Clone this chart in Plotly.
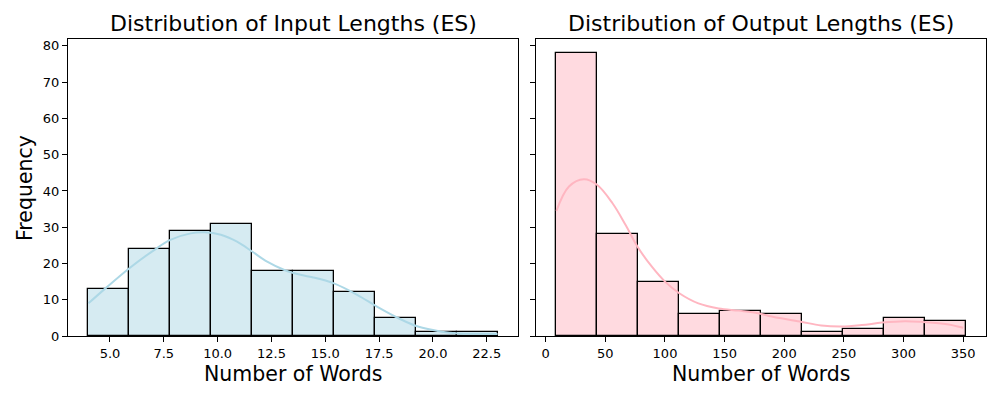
import plotly.graph_objects as go

# ---- data ----
input_bin_edges = [4.0, 5.9, 7.8, 9.7, 11.6, 13.5, 15.4, 17.3, 19.2, 21.1, 23.0]
input_counts = [13, 24, 29, 31, 18, 18, 12, 5, 1, 1]

output_bin_edges = [9.0, 43.3, 77.6, 111.9, 146.2, 180.5, 214.8, 249.1, 283.4, 317.7, 352.0]
output_counts = [78, 28, 15, 6, 7, 6, 1, 2, 5, 4]

input_kde_x = [4.0, 4.8, 5.9, 7.05, 7.8, 8.75, 9.4, 10.15, 10.9, 11.6, 12.3, 13.1,
               13.9, 14.4, 15.4, 16.5, 17.4, 18.4, 19.3, 20.4, 21.2, 22.0, 23.0]
input_kde_y = [9.0, 13.2, 18.7, 23.7, 26.5, 28.3, 28.6, 27.9, 26.0, 23.3, 20.5, 18.2,
               16.8, 16.2, 14.5, 11.3, 8.1, 4.9, 2.6, 1.2, 0.7, 0.6, 0.55]

output_kde_x = [9, 19.5, 32, 43, 56, 67, 77, 89, 100, 112, 128, 145, 162, 178,
                187, 213, 231, 248, 265, 282, 301, 315, 335, 350]
output_kde_y = [34.5, 41.2, 43.2, 41.7, 36.6, 30.6, 24.6, 19.1, 15.0, 11.8, 9.0, 7.6,
                7.0, 6.3, 5.5, 4.0, 2.9, 2.6, 3.0, 3.7, 4.1, 3.9, 3.3, 2.3]

titles = ["Distribution of Input Lengths (ES)", "Distribution of Output Lengths (ES)"]
x_label = "Number of Words"
y_label = "Frequency"
y_ticks = [0, 10, 20, 30, 40, 50, 60, 70, 80]

FONT = "DejaVu Sans"

# page body has an 8px margin; size the figure to fit inside and map window px -> paper
OFF = 8
W, H = 1000 - 2 * OFF, 400 - 2 * OFF


def px(xw):
    return (xw - OFF) / W


def py(yw):
    return 1 - (yw - OFF) / H


def centers(edges):
    return [(edges[i] + edges[i + 1]) / 2 for i in range(len(edges) - 1)]


def widths(edges):
    return [edges[i + 1] - edges[i] for i in range(len(edges) - 1)]


fig = go.Figure()

fig.add_trace(go.Bar(
    x=centers(input_bin_edges), y=input_counts, width=widths(input_bin_edges),
    marker=dict(color="rgba(173,216,230,0.5)", line=dict(color="black", width=1.3)),
    xaxis="x", yaxis="y", showlegend=False))
fig.add_trace(go.Scatter(
    x=input_kde_x, y=input_kde_y, mode="lines", line=dict(color="#ADD8E6", width=2, shape="spline"),
    xaxis="x", yaxis="y", showlegend=False))

fig.add_trace(go.Bar(
    x=centers(output_bin_edges), y=output_counts, width=widths(output_bin_edges),
    marker=dict(color="rgba(255,182,193,0.5)", line=dict(color="black", width=1.3)),
    xaxis="x2", yaxis="y2", showlegend=False))
fig.add_trace(go.Scatter(
    x=output_kde_x, y=output_kde_y, mode="lines", line=dict(color="#FFB6C1", width=2, shape="spline"),
    xaxis="x2", yaxis="y2", showlegend=False))

axis_common = dict(showline=True, linecolor="black", linewidth=1, mirror=True,
                   ticks="outside", ticklen=5, tickwidth=1, tickcolor="black",
                   showgrid=False, zeroline=False, automargin=False,
                   tickfont=dict(family=FONT, size=13, color="black"))

y_dom = [py(336), py(39)]
fig.update_layout(
    width=W, height=H,
    margin=dict(l=0, r=0, t=0, b=0),
    paper_bgcolor="white", plot_bgcolor="white",
    bargap=0,
    font=dict(family=FONT, color="black"),
    xaxis=dict(domain=[px(68), px(518)], range=[3.05, 23.95], tick0=5, dtick=2.5,
               tickformat=".1f", anchor="y", **axis_common),
    yaxis=dict(domain=y_dom, range=[0, 81.9], tickvals=y_ticks, anchor="x", **axis_common),
    xaxis2=dict(domain=[px(536), px(986)], range=[-8.15, 369.15], tick0=0, dtick=50,
                anchor="y2", **axis_common),
    yaxis2=dict(domain=y_dom, range=[0, 81.9], tickvals=y_ticks, showticklabels=False,
                anchor="x2", **axis_common),
)

annots = [
    dict(text=titles[0], x=px(293), y=py(23), font=dict(size=22)),
    dict(text=titles[1], x=px(761), y=py(23), font=dict(size=22)),
    dict(text=x_label, x=px(293), y=py(374), font=dict(size=20.5)),
    dict(text=x_label, x=px(761), y=py(374), font=dict(size=20.5)),
    dict(text=y_label, x=px(25), y=py(188), font=dict(size=20.5), textangle=-90),
]
for a in annots:
    a.update(xref="paper", yref="paper", showarrow=False, xanchor="center", yanchor="middle")
    a["font"].update(family=FONT, color="black")
    fig.add_annotation(**a)

fig.write_html("out.html")
